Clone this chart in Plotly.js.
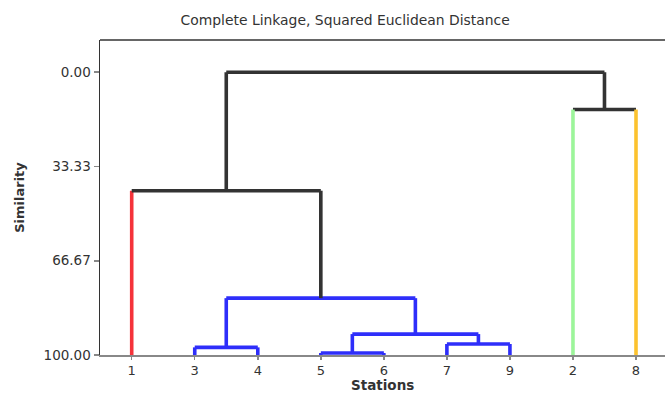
<!DOCTYPE html>
<html><head><meta charset="utf-8">
<script src="https://cdn.plot.ly/plotly-3.0.1.min.js"></script>
<style>html,body{margin:0;padding:0;background:#fff;}#chart{width:665px;height:394px;}</style>
</head><body><div id="chart"></div>
<script>
// Leaves in dendrogram order
const leafLabels = ['1','3','4','5','6','7','9','2','8'];
// Final cluster of each leaf (same order)
const leafCluster = ['red','blue','blue','blue','blue','blue','blue','green','orange'];
// Merges: node ids 0..8 are leaves, merge k creates node 9+k
const mergeLeft   = [1, 3, 5, 10, 9, 0, 7, 14];
const mergeRight  = [2, 4, 6, 11, 12, 13, 8, 15];
const mergeHeight = [97.3, 99.3, 96.1, 92.6, 79.9, 41.9, 13.2, 0.0];
// Axis ticks
const yTickVals = [0, 33.33, 66.67, 100];
const yTickText = ['0.00','33.33','66.67','100.00'];

const colorMap = {red:'#f5333a', blue:'#2e2efa', green:'#9cf59a', orange:'#fcc22e', black:'#333333'};

const nLeaf = leafLabels.length;
const nodeX = [], nodeH = [], nodeCl = [];
for (let i = 0; i < nLeaf; i++) { nodeX[i] = i; nodeH[i] = 100; nodeCl[i] = leafCluster[i]; }
const segs = {};
function addSeg(col, xs, ys) {
  if (!segs[col]) segs[col] = {x: [], y: []};
  segs[col].x.push(...xs, null); segs[col].y.push(...ys, null);
}
for (let k = 0; k < mergeLeft.length; k++) {
  const a = mergeLeft[k], b = mergeRight[k], h = mergeHeight[k];
  const id = nLeaf + k;
  const same = nodeCl[a] && nodeCl[a] === nodeCl[b];
  nodeCl[id] = same ? nodeCl[a] : null;
  nodeX[id] = (nodeX[a] + nodeX[b]) / 2;
  nodeH[id] = h;
  for (const c of [a, b]) {
    const col = (c < nLeaf || same) ? nodeCl[c] : 'black';
    addSeg(col, [nodeX[c], nodeX[c]], [nodeH[c], h]);
  }
  addSeg(same ? nodeCl[a] : 'black', [nodeX[a], nodeX[b]], [h, h]);
}
const traces = Object.keys(segs).map(col => ({
  type: 'scatter', mode: 'lines', x: segs[col].x, y: segs[col].y,
  line: {color: colorMap[col], width: 3.6}, hoverinfo: 'skip', showlegend: false, connectgaps: false
}));

const layout = {
  width: 665, height: 394,
  margin: {l: 100, r: 0, t: 40, b: 39, pad: 0},
  paper_bgcolor: '#fff', plot_bgcolor: '#fff',
  font: {family: 'DejaVu Sans, Verdana, sans-serif', size: 13, color: '#333'},
  title: {text: 'Complete Linkage, Squared Euclidean Distance', font: {size: 13.9, color: '#333'},
          x: 0.519, xref: 'container', xanchor: 'center', y: 0.95, yref: 'container', yanchor: 'middle'},
  xaxis: {
    range: [-0.503, 8.46], tickmode: 'array', tickvals: leafLabels.map((_, i) => i), ticktext: leafLabels,
    showgrid: false, zeroline: false, showline: true, linecolor: '#888', linewidth: 1.5,
    ticks: 'outside', ticklen: 3, tickcolor: '#888', tickwidth: 1.5,
    tickfont: {size: 13, color: '#333'}
  },
  yaxis: {
    range: [100, -11.4], tickmode: 'array', tickvals: yTickVals, ticktext: yTickText,
    showgrid: false, zeroline: false, showline: true, linecolor: '#333', linewidth: 1.5,
    ticks: 'outside', ticklen: 5, tickcolor: '#888', tickwidth: 1.5,
    tickfont: {size: 13.5, color: '#333'},
    title: {text: '<b>Similarity</b>', font: {size: 13, color: '#333'}, standoff: 16}
  },
  annotations: [{text: '<b>Stations</b>', xref: 'paper', yref: 'paper', x: 0.5, y: -0.1224,
                 xanchor: 'center', yanchor: 'bottom', borderpad: 0, showarrow: false,
                 font: {size: 13.5, color: '#333'}}],
  shapes: [{type: 'line', xref: 'paper', yref: 'paper', x0: 0, x1: 1, y0: 1, y1: 1,
            line: {color: '#333', width: 1.5}}]
};
Plotly.newPlot('chart', traces, layout, {staticPlot: true, displayModeBar: false});
</script></body></html>
